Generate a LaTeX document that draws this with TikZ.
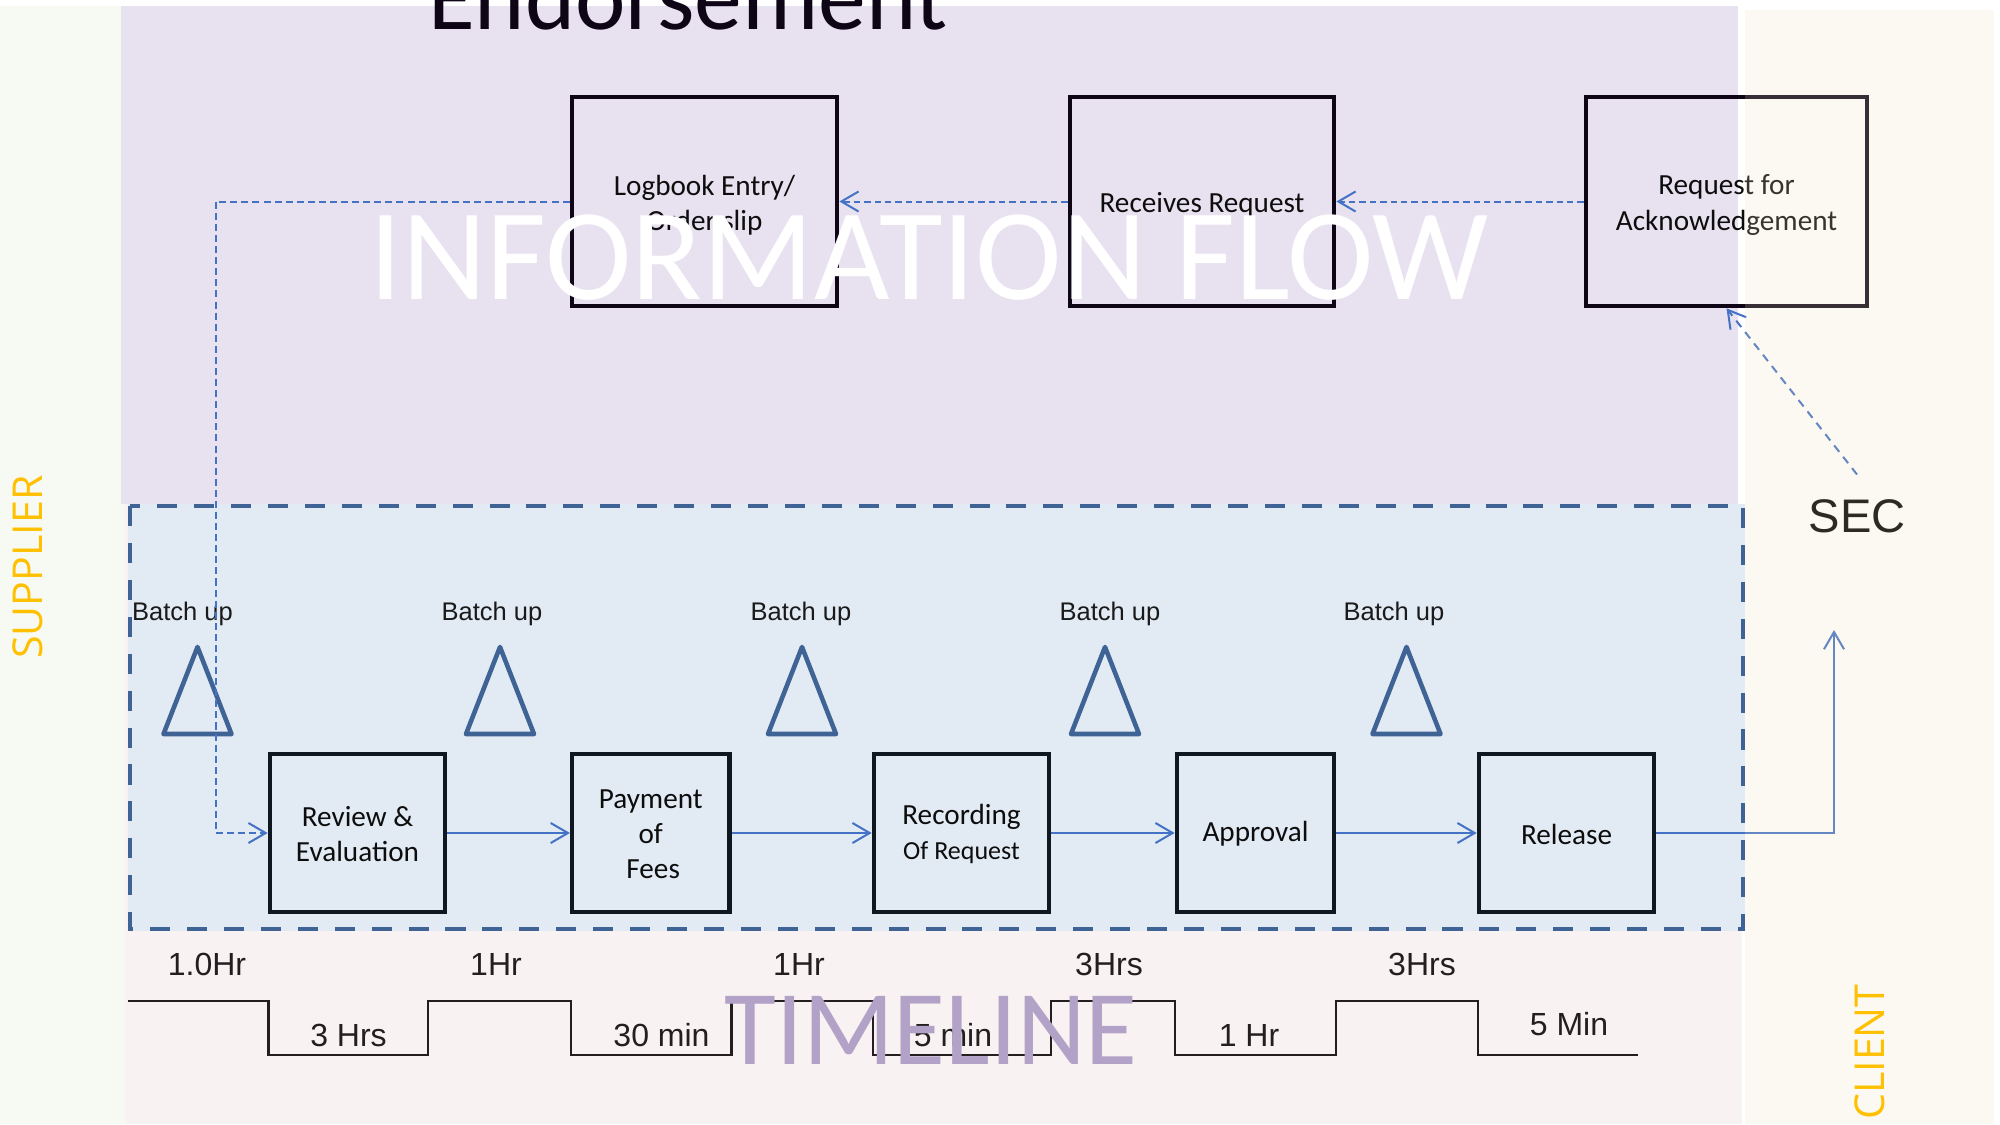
\documentclass[tikz,border=0pt]{standalone}
\usepackage{fontspec}
\setmainfont{Carlito}
\newfontfamily\arialf{Liberation Sans}
\newfontfamily\opensansf{Open Sans}
\usetikzlibrary{arrows.meta}
\definecolor{leftband}{HTML}{F7F9F3}
\definecolor{purplebg}{HTML}{E8E1F0}
\definecolor{pinkbg}{HTML}{F8F2F2}
\definecolor{bluebg}{HTML}{E2EAF4}
\definecolor{creambase}{HTML}{F2DDBD}
\definecolor{dashblue}{HTML}{3F6394}
\definecolor{arrowblue}{HTML}{4472C4}
\definecolor{boxdark}{HTML}{0E0616}
\definecolor{procdark}{HTML}{0F1720}
\definecolor{textdark}{HTML}{0D0D0D}
\definecolor{labeldark}{HTML}{1A1A1A}
\definecolor{stepdark}{HTML}{231F20}
\definecolor{sideyellow}{HTML}{FFC000}
\definecolor{timelinepurple}{HTML}{B3A2C7}
\newcommand{\BoxFont}{\fontsize{8.3pt}{10pt}\selectfont}
\newcommand{\SmallBoxFont}{\fontsize{7.4pt}{10pt}\selectfont}
\newcommand{\BatchFont}{\arialf\fontsize{7.25pt}{9pt}\selectfont}
\newcommand{\TimeFont}{\arialf\fontsize{9.1pt}{11pt}\selectfont}
\newcommand{\SecFont}{\arialf\fontsize{13.4pt}{16pt}\selectfont}
\newcommand{\SideFont}{\opensansf\fontsize{11.7pt}{14pt}\selectfont}
\newcommand{\BigFont}{\fontsize{37.1pt}{40pt}\selectfont}
\newcommand{\TimelineFont}{\fontsize{30.2pt}{34pt}\selectfont}
\newcommand{\TitleFont}{\fontsize{27.2pt}{30pt}\selectfont}
\begin{document}
\begin{tikzpicture}[x=0.01cm,y=-0.01cm,
  infobox/.style={draw=boxdark,line width=1.3pt,minimum height=2.09cm,inner sep=0pt},
  procbox/.style={draw=procdark,line width=1.3pt,minimum height=1.58cm,inner sep=0pt},
  boxtext/.style={align=center,font=\BoxFont,text=textdark,inner sep=0pt},
  flowarrow/.style={draw=arrowblue,line width=0.57pt,-{Straight Barb[length=4.9pt,width=5.7pt]}},
  infoarrow/.style={flowarrow,dash pattern=on 1.8pt off 1.15pt},
  secarrow/.style={flowarrow,dash pattern=on 2.3pt off 1.8pt},
  regionborder/.style={draw=dashblue,line width=1.3pt,dash pattern=on 5.7pt off 4.8pt},
  batchtri/.style={draw=dashblue,line width=1.3pt,line join=round},
  batchlabel/.style={font=\BatchFont,text=labeldark,anchor=base,inner sep=0pt},
  timelabel/.style={font=\TimeFont,text=stepdark,anchor=base,inner sep=0pt},
  stepline/.style={draw=stepdark,line width=0.65pt}]
\path[use as bounding box] (0,0) rectangle (2000,1124);
\clip (0,0) rectangle (2000,1124);
% backgrounds
\fill[white] (0,0) rectangle (2000,1124);
\fill[leftband] (0,6) rectangle (125,1124);
\fill[purplebg] (121,6) rectangle (1738,504);
\fill[pinkbg] (125,504) rectangle (1742,1124);
\fill[bluebg] (128,504) rectangle (1745,931);
% title
\node[font=\TitleFont,text=boxdark,anchor=base,inner sep=0pt] (title) at (688,29) {Endorsement};
% information flow boxes
\node[infobox,minimum width=2.65cm] (logbook) at (704.5,201.5) {};
\node[infobox,minimum width=2.64cm] (receives) at (1202,201.5) {};
\node[infobox,minimum width=2.81cm] (request) at (1726.5,201.5) {};
\node[boxtext] (logbooktext) at ([yshift=-0.035cm]logbook.center) {Logbook Entry/\\Order slip};
\node[boxtext] (receivestext) at ([yshift=-0.035cm]receives.center) {Receives Request};
\node[boxtext] (requesttext) at ([yshift=-0.035cm]request.center) {Request for\\Acknowledgement};
\draw[infoarrow] (request.west) -- (receives.east);
\draw[infoarrow] (receives.west) -- (logbook.east);
% region border
\draw[regionborder] (130,506) rectangle (1743,929);
% batch triangles
\foreach \cx in {197.5,500,802,1105,1406.5} {
  \draw[batchtri] (\cx-34,734) -- (\cx,647) -- (\cx+34,734) -- cycle;
}
\node[batchlabel] (b1) at (182.5,620) {Batch up};
\node[batchlabel] (b2) at (492,620) {Batch up};
\node[batchlabel] (b3) at (801,620) {Batch up};
\node[batchlabel] (b4) at (1110,620) {Batch up};
\node[batchlabel] (b5) at (1394,620) {Batch up};
% process boxes
\node[procbox,minimum width=1.75cm] (review) at (357.5,833) {};
\node[procbox,minimum width=1.57cm] (payment) at (650.75,833) {};
\node[procbox,minimum width=1.75cm] (recording) at (961.5,833) {};
\node[procbox,minimum width=1.57cm] (approval) at (1255.5,833) {};
\node[procbox,minimum width=1.75cm] (release) at (1566.5,833) {};
\node[boxtext] (reviewtext) at ([yshift=-0.01cm]review.center) {Review \&\\Evaluation};
\node[boxtext] (paymenttext) at ([yshift=-0.01cm]payment.center) {Payment\\of\\\,Fees};
\node[boxtext] (recordingtext) at ([yshift=-0.01cm]recording.center) {Recording\\{\SmallBoxFont Of Request}};
\node[boxtext] (approvaltext) at ([yshift=-0.01cm]approval.center) {Approval};
\node[boxtext] (releasetext) at ([yshift=-0.01cm]release.center) {Release};
\draw[flowarrow] (review.east) -- (payment.west);
\draw[flowarrow] (payment.east) -- (recording.west);
\draw[flowarrow] (recording.east) -- (approval.west);
\draw[flowarrow] (approval.east) -- (release.west);
\coordinate (outtip) at (1834,630);
\draw[flowarrow] (release.east) -| (outtip);
% supplier dashed feed
\coordinate (feedcorner) at (215.5,201.5);
\draw[infoarrow,dash pattern=on 2pt off 1.15pt] (logbook.west) -- (feedcorner) |- (review.west);
% SEC
\node[font=\SecFont,text=black,anchor=base,inner sep=6.8pt] (sec) at (1857,532) {SEC};
\draw[secarrow] (sec.north) -- (request.south);
% timeline
\draw[stepline] (128,1001) -- (268.5,1001) -- (268.5,1055) -- (428,1055) -- (428,1001)
  -- (571,1001) -- (571,1055) -- (731.5,1055) -- (731.5,1001) -- (873,1001)
  -- (873,1055) -- (1051,1055) -- (1051,1001) -- (1175,1001) -- (1175,1055)
  -- (1336,1055) -- (1336,1001) -- (1478,1001) -- (1478,1055) -- (1638,1055);
\node[timelabel] (t1) at (207,975) {1.0Hr};
\node[timelabel] (t2) at (496,975) {1Hr};
\node[timelabel] (t3) at (799,975) {1Hr};
\node[timelabel] (t4) at (1109,975) {3Hrs};
\node[timelabel] (t5) at (1422,975) {3Hrs};
\node[timelabel] (t6) at (348.5,1046) {3 Hrs};
\node[timelabel] (t7) at (661.5,1046) {30 min};
\node[timelabel] (t8) at (953,1046) {5 min};
\node[timelabel] (t9) at (1249,1046) {1 Hr};
\node[timelabel] (t10) at (1569,1035) {5 Min};
% client band overlay
\fill[creambase,opacity=0.19] (1745,10) rectangle (1994,1124);
% big overlay texts
\node[font=\BigFont,text=white,anchor=base,inner sep=0pt] (infoflow) at (929,299) {INFORMATION FLOW};
\node[font=\TimelineFont,text=timelinepurple,anchor=base,inner sep=0pt] (timeline) at (931,1064) {TIMELINE};
\node[font=\SideFont,text=sideyellow,rotate=90,inner sep=0pt] (supplier) at (28,567) {SUPPLIER};
\node[font=\SideFont,text=sideyellow,rotate=90,inner sep=0pt] (client) at (1870,1052) {CLIENT};
\end{tikzpicture}
\end{document}
